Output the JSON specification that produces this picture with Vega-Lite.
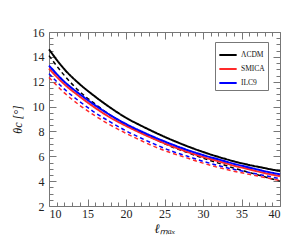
{
  "$schema": "https://vega.github.io/schema/vega-lite/v6.json",
  "width": 231,
  "height": 174,
  "autosize": {"type": "none"},
  "padding": {"left": 49, "top": 32, "right": 24, "bottom": 37},
  "background": "white",
  "config": {
    "view": {"stroke": "#777", "strokeWidth": 1},
    "axis": {"grid": false, "domain": false, "labelFont": "Liberation Serif", "titleFont": "Liberation Serif", "tickColor": "#777", "labelColor": "#222", "labelFontSize": 12, "titleColor": "#111", "titleFontWeight": "normal"}
  },
  "data": {"values": [
    {"l":10,"v":14.6,"m":"ΛCDM","t":"solid"},{"l":12,"v":13.0,"m":"ΛCDM","t":"solid"},{"l":14,"v":11.8,"m":"ΛCDM","t":"solid"},{"l":16,"v":10.8,"m":"ΛCDM","t":"solid"},{"l":18,"v":9.9,"m":"ΛCDM","t":"solid"},{"l":20,"v":9.1,"m":"ΛCDM","t":"solid"},{"l":22,"v":8.45,"m":"ΛCDM","t":"solid"},{"l":24,"v":7.85,"m":"ΛCDM","t":"solid"},{"l":26,"v":7.3,"m":"ΛCDM","t":"solid"},{"l":28,"v":6.8,"m":"ΛCDM","t":"solid"},{"l":30,"v":6.35,"m":"ΛCDM","t":"solid"},{"l":32,"v":5.95,"m":"ΛCDM","t":"solid"},{"l":34,"v":5.6,"m":"ΛCDM","t":"solid"},{"l":36,"v":5.3,"m":"ΛCDM","t":"solid"},{"l":38,"v":5.05,"m":"ΛCDM","t":"solid"},{"l":40,"v":4.8,"m":"ΛCDM","t":"solid"},
    {"l":10,"v":14.1,"m":"ΛCDM","t":"dashed"},{"l":12,"v":12.5,"m":"ΛCDM","t":"dashed"},{"l":14,"v":11.2,"m":"ΛCDM","t":"dashed"},{"l":16,"v":10.2,"m":"ΛCDM","t":"dashed"},{"l":18,"v":9.3,"m":"ΛCDM","t":"dashed"},{"l":20,"v":8.55,"m":"ΛCDM","t":"dashed"},{"l":22,"v":7.9,"m":"ΛCDM","t":"dashed"},{"l":24,"v":7.3,"m":"ΛCDM","t":"dashed"},{"l":26,"v":6.75,"m":"ΛCDM","t":"dashed"},{"l":28,"v":6.3,"m":"ΛCDM","t":"dashed"},{"l":30,"v":5.85,"m":"ΛCDM","t":"dashed"},{"l":32,"v":5.45,"m":"ΛCDM","t":"dashed"},{"l":34,"v":5.05,"m":"ΛCDM","t":"dashed"},{"l":36,"v":4.7,"m":"ΛCDM","t":"dashed"},{"l":38,"v":4.35,"m":"ΛCDM","t":"dashed"},{"l":40,"v":4.0,"m":"ΛCDM","t":"dashed"},
    {"l":10,"v":13.05,"m":"SMICA","t":"solid"},{"l":12,"v":11.8,"m":"SMICA","t":"solid"},{"l":14,"v":10.8,"m":"SMICA","t":"solid"},{"l":16,"v":9.9,"m":"SMICA","t":"solid"},{"l":18,"v":9.1,"m":"SMICA","t":"solid"},{"l":20,"v":8.45,"m":"SMICA","t":"solid"},{"l":22,"v":7.85,"m":"SMICA","t":"solid"},{"l":24,"v":7.3,"m":"SMICA","t":"solid"},{"l":26,"v":6.8,"m":"SMICA","t":"solid"},{"l":28,"v":6.35,"m":"SMICA","t":"solid"},{"l":30,"v":5.95,"m":"SMICA","t":"solid"},{"l":32,"v":5.6,"m":"SMICA","t":"solid"},{"l":34,"v":5.25,"m":"SMICA","t":"solid"},{"l":36,"v":4.95,"m":"SMICA","t":"solid"},{"l":38,"v":4.65,"m":"SMICA","t":"solid"},{"l":40,"v":4.4,"m":"SMICA","t":"solid"},
    {"l":10,"v":12.35,"m":"SMICA","t":"dashed"},{"l":12,"v":11.1,"m":"SMICA","t":"dashed"},{"l":14,"v":10.1,"m":"SMICA","t":"dashed"},{"l":16,"v":9.25,"m":"SMICA","t":"dashed"},{"l":18,"v":8.5,"m":"SMICA","t":"dashed"},{"l":20,"v":7.85,"m":"SMICA","t":"dashed"},{"l":22,"v":7.25,"m":"SMICA","t":"dashed"},{"l":24,"v":6.7,"m":"SMICA","t":"dashed"},{"l":26,"v":6.25,"m":"SMICA","t":"dashed"},{"l":28,"v":5.85,"m":"SMICA","t":"dashed"},{"l":30,"v":5.45,"m":"SMICA","t":"dashed"},{"l":32,"v":5.1,"m":"SMICA","t":"dashed"},{"l":34,"v":4.8,"m":"SMICA","t":"dashed"},{"l":36,"v":4.55,"m":"SMICA","t":"dashed"},{"l":38,"v":4.3,"m":"SMICA","t":"dashed"},{"l":40,"v":4.05,"m":"SMICA","t":"dashed"},
    {"l":10,"v":13.3,"m":"ILC9","t":"solid"},{"l":12,"v":12.0,"m":"ILC9","t":"solid"},{"l":14,"v":11.0,"m":"ILC9","t":"solid"},{"l":16,"v":10.1,"m":"ILC9","t":"solid"},{"l":18,"v":9.3,"m":"ILC9","t":"solid"},{"l":20,"v":8.6,"m":"ILC9","t":"solid"},{"l":22,"v":8.0,"m":"ILC9","t":"solid"},{"l":24,"v":7.45,"m":"ILC9","t":"solid"},{"l":26,"v":6.95,"m":"ILC9","t":"solid"},{"l":28,"v":6.5,"m":"ILC9","t":"solid"},{"l":30,"v":6.1,"m":"ILC9","t":"solid"},{"l":32,"v":5.75,"m":"ILC9","t":"solid"},{"l":34,"v":5.4,"m":"ILC9","t":"solid"},{"l":36,"v":5.1,"m":"ILC9","t":"solid"},{"l":38,"v":4.8,"m":"ILC9","t":"solid"},{"l":40,"v":4.55,"m":"ILC9","t":"solid"},
    {"l":10,"v":12.65,"m":"ILC9","t":"dashed"},{"l":12,"v":11.4,"m":"ILC9","t":"dashed"},{"l":14,"v":10.4,"m":"ILC9","t":"dashed"},{"l":16,"v":9.5,"m":"ILC9","t":"dashed"},{"l":18,"v":8.75,"m":"ILC9","t":"dashed"},{"l":20,"v":8.05,"m":"ILC9","t":"dashed"},{"l":22,"v":7.45,"m":"ILC9","t":"dashed"},{"l":24,"v":6.9,"m":"ILC9","t":"dashed"},{"l":26,"v":6.4,"m":"ILC9","t":"dashed"},{"l":28,"v":6.0,"m":"ILC9","t":"dashed"},{"l":30,"v":5.6,"m":"ILC9","t":"dashed"},{"l":32,"v":5.25,"m":"ILC9","t":"dashed"},{"l":34,"v":4.95,"m":"ILC9","t":"dashed"},{"l":36,"v":4.7,"m":"ILC9","t":"dashed"},{"l":38,"v":4.45,"m":"ILC9","t":"dashed"},{"l":40,"v":4.2,"m":"ILC9","t":"dashed"}
  ]},
  "layer": [
    {
      "mark": {"type": "line", "interpolate": "monotone"},
      "encoding": {
        "x": {"field": "l", "type": "quantitative", "scale": {"domain": [10, 40], "nice": false, "zero": false},
              "axis": {"orient": "bottom", "values": [10, 15, 20, 25, 30, 35, 40], "tickSize": -7, "labelPadding": 9, "title": "ℓₘₐₓ", "titleFontSize": 13, "titleFontStyle": "italic", "titlePadding": 3}},
        "y": {"field": "v", "type": "quantitative", "scale": {"domain": [2, 16], "nice": false, "zero": false},
              "axis": {"orient": "left", "values": [2, 4, 6, 8, 10, 12, 14, 16], "tickSize": -7, "labelPadding": 12, "title": "θc [°]", "titleFontSize": 12, "titleFontStyle": "italic", "titlePadding": 8}},
        "color": {"field": "m", "type": "nominal", "sort": ["ΛCDM", "SMICA", "ILC9"],
                  "scale": {"domain": ["ΛCDM", "SMICA", "ILC9"], "range": ["#000000", "#ff2a2a", "#0000ff"]},
                  "legend": {"title": null, "orient": "none", "legendX": 166, "legendY": 10, "symbolType": "stroke", "symbolSize": 300, "symbolStrokeWidth": 2, "labelFont": "Liberation Serif", "labelFontSize": 7.5, "labelColor": "#111", "strokeColor": "#777", "padding": 3, "rowPadding": -2, "labelOffset": 3, "fillColor": "white"}},
        "strokeDash": {"field": "t", "type": "nominal", "scale": {"domain": ["solid", "dashed"], "range": [[1, 0], [4, 3]]}, "legend": null},
        "size": {"field": "t", "type": "nominal", "scale": {"domain": ["solid", "dashed"], "range": [2, 1.5]}, "legend": null}
      }
    },
    {
      "mark": {"type": "point", "opacity": 0},
      "encoding": {
        "x": {"field": "l", "type": "quantitative", "axis": {"orient": "bottom", "values": [11,12,13,14,16,17,18,19,21,22,23,24,26,27,28,29,31,32,33,34,36,37,38,39], "tickSize": -4, "labels": false, "title": null}},
        "y": {"field": "v", "type": "quantitative", "axis": {"orient": "left", "values": [2.5,3,3.5,4.5,5,5.5,6.5,7,7.5,8.5,9,9.5,10.5,11,11.5,12.5,13,13.5,14.5,15,15.5], "tickSize": -4, "labels": false, "title": null}}
      }
    },
    {
      "mark": {"type": "point", "opacity": 0},
      "encoding": {
        "x": {"field": "l", "type": "quantitative", "axis": {"orient": "top", "values": [10, 15, 20, 25, 30, 35, 40], "tickSize": -7, "labels": false, "title": null}},
        "y": {"field": "v", "type": "quantitative", "axis": {"orient": "right", "values": [2, 4, 6, 8, 10, 12, 14, 16], "tickSize": -7, "labels": false, "title": null}}
      }
    },
    {
      "mark": {"type": "point", "opacity": 0},
      "encoding": {
        "x": {"field": "l", "type": "quantitative", "axis": {"orient": "top", "values": [11,12,13,14,16,17,18,19,21,22,23,24,26,27,28,29,31,32,33,34,36,37,38,39], "tickSize": -4, "labels": false, "title": null}},
        "y": {"field": "v", "type": "quantitative", "axis": {"orient": "right", "values": [2.5,3,3.5,4.5,5,5.5,6.5,7,7.5,8.5,9,9.5,10.5,11,11.5,12.5,13,13.5,14.5,15,15.5], "tickSize": -4, "labels": false, "title": null}}
      }
    }
  ],
  "resolve": {"axis": {"x": "independent", "y": "independent"}}
}
